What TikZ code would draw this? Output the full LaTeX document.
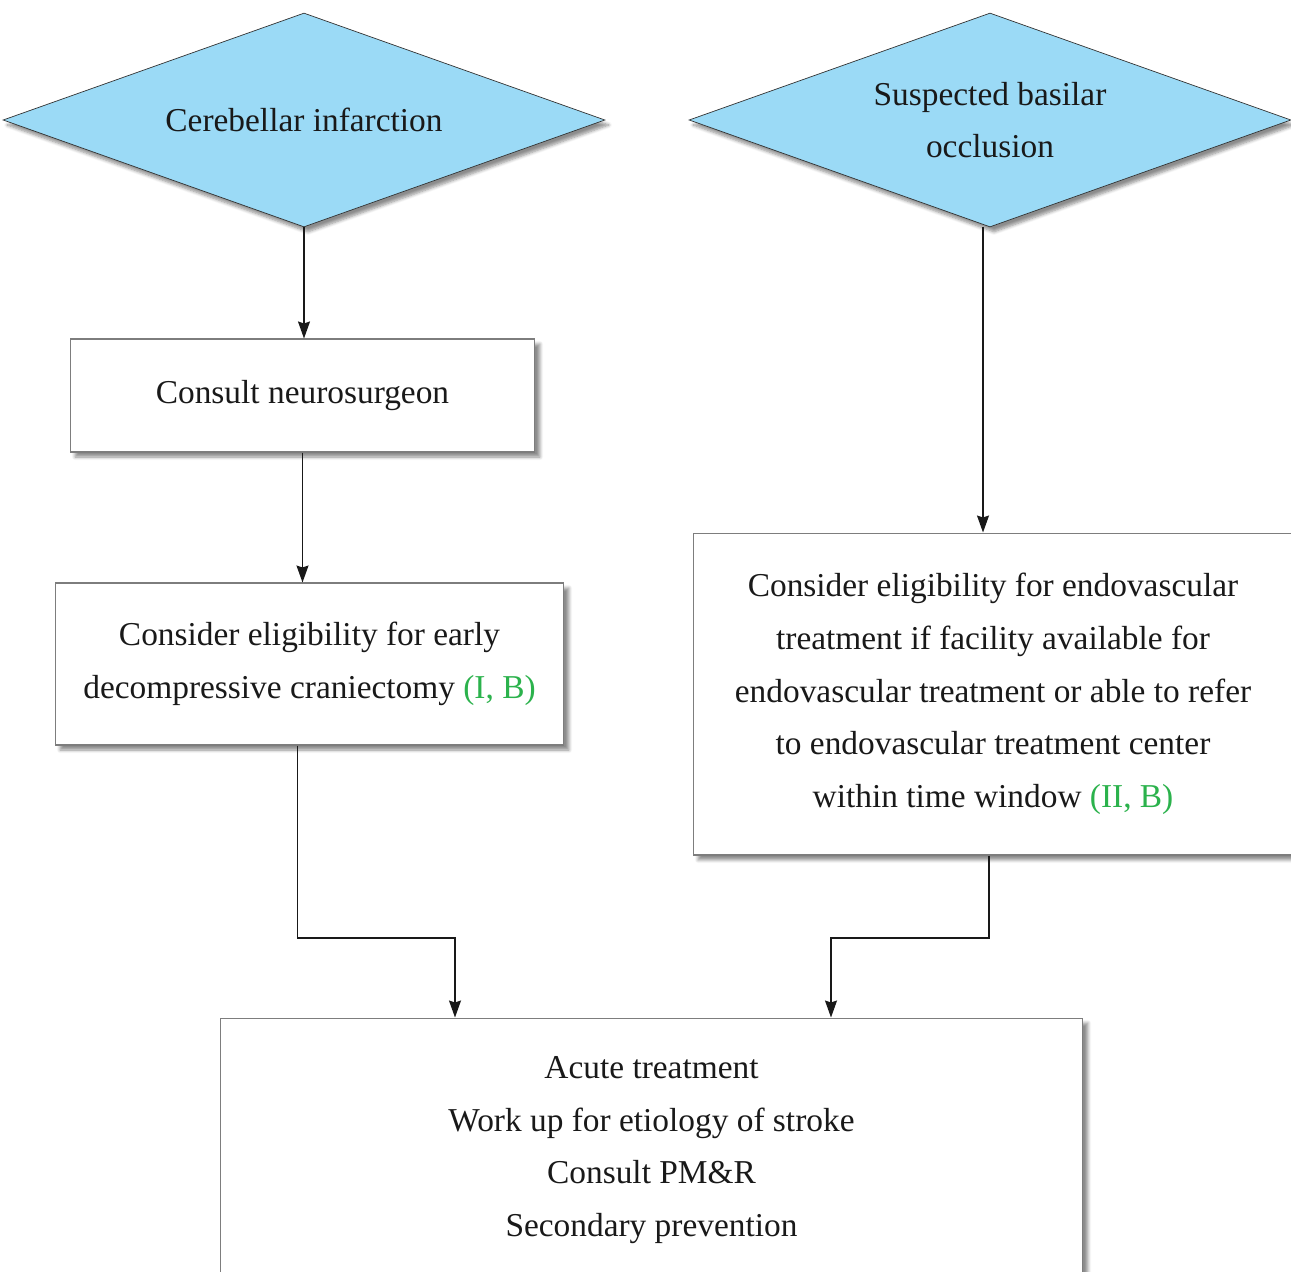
\documentclass[tikz,border=0pt]{standalone}
\usepackage{fontspec}
\setmainfont{Liberation Serif}
\usepackage{xcolor}
\usepackage{tikz}
\usetikzlibrary{positioning,calc,shapes.geometric,arrows.meta,shadows.blur}
\definecolor{dmblue}{RGB}{155,218,246}
\definecolor{lvlgreen}{RGB}{43,178,76}
\definecolor{boxgray}{RGB}{125,125,125}

\begin{document}
\begin{tikzpicture}[x=0.02cm,y=-0.02cm,
		txt/.style={font=\fontsize{19}{30}\selectfont,align=center,text=black!90},
		dm/.style={diamond,aspect=2.81,draw=black!80,fill=dmblue,inner sep=0pt,txt,blur shadow={shadow xshift=0.08cm,shadow yshift=-0.1cm,shadow opacity=45,shadow blur steps=6}},
		bx/.style={rectangle,draw=boxgray,fill=white,line width=0.6pt,txt,blur shadow={shadow xshift=0.1cm,shadow yshift=-0.1cm,shadow opacity=45,shadow blur steps=6}},
		arr/.style={-{Stealth[length=0.34cm,width=0.24cm,inset=0.04cm]},line width=0.8pt,black!90}]
		\clip (0,0) rectangle (1291,1271);
		% top row
		\node[dm,minimum width=12.04cm,minimum height=4.28cm] (cb) at (304,120) {Cerebellar infarction};
		\node[dm,minimum width=12.04cm,minimum height=4.28cm] (bo) at (990,120) {Suspected basilar\\occlusion};
		% left column
		\node[bx,minimum width=9.3cm,minimum height=2.26cm] (ns) at (302.5,395.5) {Consult neurosurgeon};
		\node[bx,minimum width=10.18cm,minimum height=3.24cm] (dc) at (309.5,664) {Consider eligibility for early\\decompressive craniectomy \textcolor{lvlgreen}{(I, B)}};
		% right column
		\node[bx,minimum width=12cm,minimum height=6.44cm] (ev) at (993,694) {Consider eligibility for endovascular\\treatment if facility available for\\endovascular treatment or able to refer\\to endovascular treatment center\\within time window \textcolor{lvlgreen}{(II, B)}};
		% bottom
		\node[bx,minimum width=17.26cm,minimum height=5.28cm] (acute) at (651.5,1150) {Acute treatment\\Work up for etiology of stroke\\Consult PM\&R\\Secondary prevention};
		
		\draw[arr] (cb.south)--(cb.south |- ns.north);
		\draw[arr] (ns.south)--(ns.south |- dc.north);
		\coordinate (bt) at (983,227);
		\draw[arr] (bt)--(bt |- ev.north);
		\coordinate (jl) at (455,938);
		\coordinate (jr) at (831,938);
		\draw[arr] ([xshift=-0.24cm]dc.south) |- (jl) -- (jl |- acute.north);
		\draw[arr] ([xshift=-0.08cm]ev.south) |- (jr) -- (jr |- acute.north);
	\end{tikzpicture}
\end{document}
